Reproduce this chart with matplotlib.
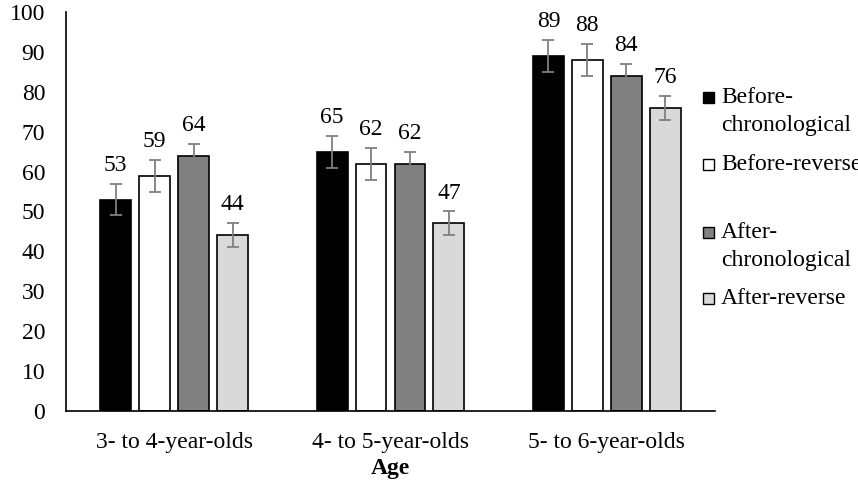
import matplotlib
matplotlib.use("Agg")
import matplotlib.pyplot as plt
from matplotlib.patches import Rectangle
import numpy as np

plt.rcParams['font.family'] = ['Liberation Serif', 'DejaVu Serif']

categories = ["3- to 4-year-olds", "4- to 5-year-olds", "5- to 6-year-olds"]
series_names = ["Before-\nchronological", "Before-reverse", "After-\nchronological", "After-reverse"]
before_chrono = [53, 65, 89]
before_rev = [59, 62, 88]
after_chrono = [64, 62, 84]
after_rev = [44, 47, 76]
err_before_chrono = [4, 4, 4]
err_before_rev = [4, 4, 4]
err_after_chrono = [3, 3, 3]
err_after_rev = [3, 3, 3]
y_ticks = [0, 10, 20, 30, 40, 50, 60, 70, 80, 90, 100]

values = [before_chrono, before_rev, after_chrono, after_rev]
errors = [err_before_chrono, err_before_rev, err_after_chrono, err_after_rev]
colors = ["#000000", "#ffffff", "#808080", "#d9d9d9"]

FS = 17
W, H = 858, 488
fig = plt.figure(figsize=(W / 100, H / 100), dpi=100)
ax = fig.add_axes([66 / W, 1 - 411 / H, (715 - 66) / W, (411 - 12) / H])

x = np.arange(len(categories))
bw = 0.143
step = 0.18
for i, (vals, errs, c) in enumerate(zip(values, errors, colors)):
    pos = x + (i - 1.5) * step
    ax.bar(pos, vals, width=bw, color=c, edgecolor="black", linewidth=1.2, zorder=2)
    ax.errorbar(pos, vals, yerr=errs, fmt="none", ecolor="#7f7f7f", elinewidth=1.3,
                capsize=4, capthick=1.3, zorder=3)
    for p, v, e in zip(pos, vals, errs):
        ax.text(p, v + e + 2.0, str(v), ha="center", va="bottom", fontsize=FS)

ax.set_xlim(-0.5, 2.5)
ax.set_ylim(0, 100)
ax.set_yticks(y_ticks)
ax.set_yticklabels([str(t) for t in y_ticks], fontsize=FS)
ax.set_xticks(x)
ax.set_xticklabels(categories, fontsize=FS)
ax.tick_params(axis="y", length=0, pad=15)
ax.tick_params(axis="x", length=0, pad=15)
for s in ["top", "right"]:
    ax.spines[s].set_visible(False)
ax.spines["left"].set_linewidth(1.2)
ax.spines["bottom"].set_linewidth(1.2)
ax.set_xlabel("Age", fontsize=FS, fontweight="bold", labelpad=4)

# legend drawn manually to reproduce layout
leg_base = [103, 170, 238, 304]
line_gap = 28
for name, c, yb in zip(series_names, colors, leg_base):
    fig.patches.append(Rectangle((703 / W, 1 - 103 / H + (103 - yb) / H), 11 / W, 11 / H,
                                 facecolor=c, edgecolor="black", linewidth=1.0,
                                 transform=fig.transFigure, figure=fig))
    for k, line in enumerate(name.split("\n")):
        fig.text(721 / W, 1 - (yb + k * line_gap) / H, line, ha="left",
                 va="baseline", fontsize=FS)

fig.savefig("out.png", dpi=100)
